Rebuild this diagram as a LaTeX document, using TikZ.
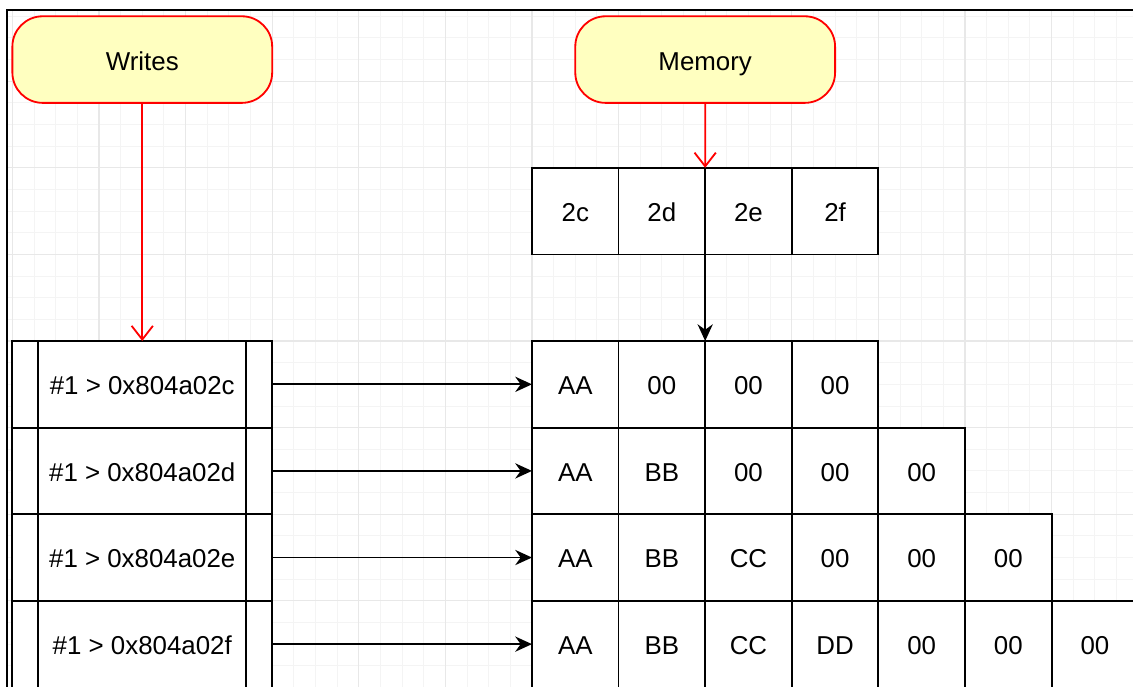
\documentclass[tikz,border=0pt]{standalone}
\usepackage{fontspec}
\setmainfont{Liberation Sans}
\usepackage{tikz}
\usetikzlibrary{positioning}
\usetikzlibrary{arrows.meta}
\definecolor{termfill}{HTML}{FFFFC0}
\definecolor{gridlight}{HTML}{F4F4F4}
\definecolor{griddark}{HTML}{E8E8E8}
\tikzstyle{cell} = [draw=black, line width=0.6pt, fill=white, minimum width=1cm, minimum height=1cm, inner sep=0pt, outer sep=0pt, text height=1.6ex, text depth=.3ex, font=\fontsize{8.5}{10}\selectfont]
\tikzstyle{write} = [cell, minimum width=3cm, path picture={\draw[line width=0.6pt] ([xshift=.3cm]path picture bounding box.north west) -- ([xshift=.3cm]path picture bounding box.south west) ([xshift=-.3cm]path picture bounding box.north east) -- ([xshift=-.3cm]path picture bounding box.south east);}]
\tikzstyle{terminal} = [draw=red, fill=termfill, line width=0.6pt, rounded corners=0.35cm, minimum width=3cm, minimum height=1cm, text height=1.6ex, text depth=.3ex, font=\fontsize{8.5}{10}\selectfont]
\tikzstyle{redarrow} = [-{Straight Barb[length=4.5pt,width=7pt]}, red, line width=0.6pt]
\tikzstyle{arrow} = [-{Stealth[length=5.5pt,width=5pt]}, line width=0.6pt]

\begin{document}
\begin{tikzpicture}
    \useasboundingbox (-6.143,-3.995) rectangle (6.940,3.938);
    \clip (-6.143,-3.995) rectangle (6.940,3.938);

    % page grid and frame
    \begin{scope}
        \clip (-6.062,3.822) rectangle (7,-4.1);
        \draw [gridlight, line width=0.3pt, step=0.25cm] (-6.25,-4.25) grid (7,4);
        \draw [griddark, line width=0.4pt, step=1cm] (-7,-5) grid (7,4);
    \end{scope}
    \draw [line width=0.9pt] (-6.062,-4.1) -- (-6.062,3.822) -- (7,3.822);

    \node (writes) [terminal] at (-4.5,3.25) {Writes};
    \node (memory) [terminal] at (2,3.25) {Memory};

    % addresses
    \node (h0) [cell] at (0.5,1.5) {2c};
    \node (h1) [cell, right=0pt of h0] {2d};
    \node (h2) [cell, right=0pt of h1] {2e};
    \node (h3) [cell, right=0pt of h2] {2f};

    % write list
    \node (w0) [write] at (-4.5,-0.5) {\#1 > 0x804a02c};
    \node (w1) [write, below=0pt of w0] {\#1 > 0x804a02d};
    \node (w2) [write, below=0pt of w1] {\#1 > 0x804a02e};
    \node (w3) [write, below=0pt of w2] {\#1 > 0x804a02f};

    % memory after each write
    \node (m00) [cell] at (0.5,-0.5) {AA};
    \node (m01) [cell, right=0pt of m00] {00};
    \node (m02) [cell, right=0pt of m01] {00};
    \node (m03) [cell, right=0pt of m02] {00};

    \node (m10) [cell, below=0pt of m00] {AA};
    \node (m11) [cell, right=0pt of m10] {BB};
    \node (m12) [cell, right=0pt of m11] {00};
    \node (m13) [cell, right=0pt of m12] {00};
    \node (m14) [cell, right=0pt of m13] {00};

    \node (m20) [cell, below=0pt of m10] {AA};
    \node (m21) [cell, right=0pt of m20] {BB};
    \node (m22) [cell, right=0pt of m21] {CC};
    \node (m23) [cell, right=0pt of m22] {00};
    \node (m24) [cell, right=0pt of m23] {00};
    \node (m25) [cell, right=0pt of m24] {00};

    \node (m30) [cell, below=0pt of m20] {AA};
    \node (m31) [cell, right=0pt of m30] {BB};
    \node (m32) [cell, right=0pt of m31] {CC};
    \node (m33) [cell, right=0pt of m32] {DD};
    \node (m34) [cell, right=0pt of m33] {00};
    \node (m35) [cell, right=0pt of m34] {00};
    \node (m36) [cell, right=0pt of m35] {00};

    \draw [redarrow] (writes) -- (w0);
    \draw [redarrow] (memory) -- (h1.north east);
    \draw [arrow] (h1.south east) -- (m01.north east);
    \draw [arrow] (w0) -- (m00);
    \draw [arrow] (w1) -- (m10);
    \draw [arrow] (w2) -- (m20);
    \draw [arrow] (w3) -- (m30);
\end{tikzpicture}
\end{document}
